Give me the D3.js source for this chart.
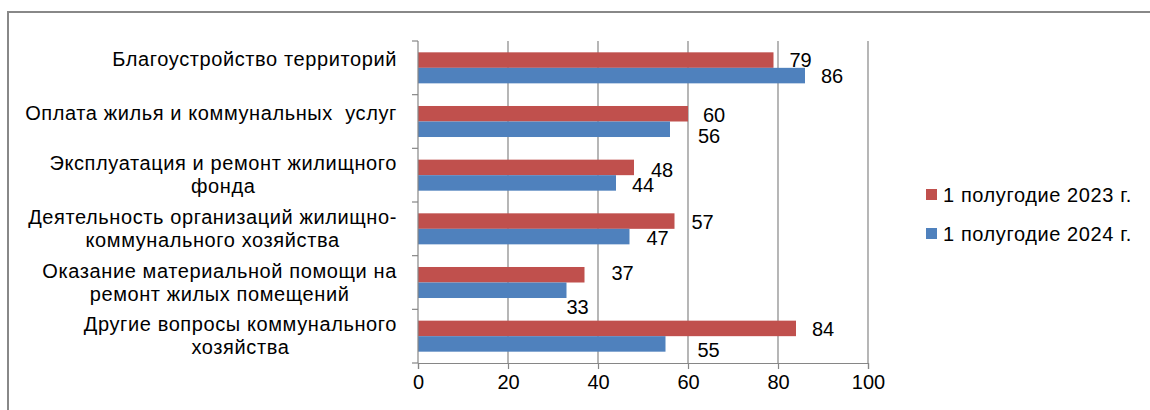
<!DOCTYPE html>
<meta charset="utf-8">
<style>
    body { margin: 0; background: #fff; }
    text { font-family: "Liberation Sans", Arial, sans-serif; fill: #000; white-space: pre; }
</style>
<body>
<script src="https://cdnjs.cloudflare.com/ajax/libs/d3/7.8.5/d3.min.js"></script>
<script>

    var categories = [
        ["Благоустройство территорий"],
        ["Оплата жилья и коммунальных  услуг"],
        ["Эксплуатация и ремонт жилищного", "фонда"],
        ["Деятельность организаций жилищно-", "коммунального хозяйства"],
        ["Оказание материальной помощи на", "ремонт жилых помещений"],
        ["Другие вопросы коммунального", "хозяйства"]
    ];
    var seriesNames = ["1 полугодие 2023 г.", "1 полугодие 2024 г."];
    var values2023 = [79, 60, 48, 57, 37, 84];
    var values2024 = [86, 56, 44, 47, 33, 55];
    var xTicks = [0, 20, 40, 60, 80, 100];

    var COLORS = ["#C0504D", "#4F81BD"];
    var GRID = "#868686";

    // label nudges (dx, dy) so the value labels sit like in the original
    var labelNudge = [
        [[16, 0], [16, 0]],
        [[15, 1], [28, 7]],
        [[17, 2], [16, 2]],
        [[17, 1], [17, 1]],
        [[27, -2], [0, 17]],
        [[16, 0], [32, 6]]
    ];

    var width = 1150;
    var height = 410;

    var svg = d3.select("body").append("svg")
        .attr("width", width)
        .attr("height", height);

    // outer frame (only top & left visible)
    svg.append("path")
        .attr("d", "M8,410 V12 H1150")
        .attr("fill", "none")
        .attr("stroke", "#888")
        .attr("stroke-width", 2);

    var plot = { left: 418, right: 868, top: 41, bottom: 363 };

    var x = d3.scaleLinear()
        .domain([0, 100])
        .range([plot.left, plot.right]);

    var y = d3.scaleBand()
        .domain(d3.range(categories.length))
        .range([plot.top, plot.bottom])
        .paddingInner(0)
        .paddingOuter(0);

    var sub = d3.scaleBand()
        .domain([0, 1])
        .range([0, y.bandwidth()])
        .paddingOuter(0.73)
        .paddingInner(0);

    // gridlines
    svg.selectAll("line.grid")
        .data(xTicks.slice(1))
        .enter().append("line")
        .attr("class", "grid")
        .attr("x1", function (d) { return x(d); })
        .attr("x2", function (d) { return x(d); })
        .attr("y1", plot.top)
        .attr("y2", plot.bottom)
        .attr("stroke", GRID)
        .attr("stroke-width", 1.2);

    // bars
    var series = [values2023, values2024];
    series.forEach(function (vals, s) {
        svg.selectAll("rect.bar" + s)
            .data(vals)
            .enter().append("rect")
            .attr("class", "bar" + s)
            .attr("x", x(0))
            .attr("y", function (d, i) { return y(i) + sub(s); })
            .attr("width", function (d) { return x(d) - x(0); })
            .attr("height", sub.bandwidth())
            .attr("fill", COLORS[s]);

        svg.selectAll("text.val" + s)
            .data(vals)
            .enter().append("text")
            .attr("class", "val" + s)
            .attr("x", function (d, i) { return x(d) + labelNudge[i][s][0]; })
            .attr("y", function (d, i) { return y(i) + sub(s) + sub.bandwidth() / 2 + labelNudge[i][s][1]; })
            .attr("dy", "0.36em")
            .attr("font-size", 20)
            .text(function (d) { return d; });
    });

    // x axis
    var xAxis = d3.axisBottom(x)
        .tickValues(xTicks)
        .tickSize(6)
        .tickPadding(6);

    var gx = svg.append("g")
        .attr("transform", "translate(0," + plot.bottom + ")")
        .call(xAxis);
    gx.select(".domain").attr("stroke", GRID).attr("stroke-width", 1.2);
    gx.selectAll(".tick line").attr("stroke", GRID).attr("stroke-width", 1.2);
    gx.selectAll(".tick text")
        .attr("font-size", 20)
        .attr("font-family", "Liberation Sans, Arial, sans-serif")
        .attr("fill", "#000");

    // y axis line with ticks at category boundaries
    var bounds = d3.range(categories.length + 1).map(function (i) {
        return plot.top + i * y.step();
    });
    svg.append("line")
        .attr("x1", plot.left).attr("x2", plot.left)
        .attr("y1", plot.top).attr("y2", plot.bottom)
        .attr("stroke", GRID).attr("stroke-width", 1.2);
    svg.selectAll("line.ytick")
        .data(bounds)
        .enter().append("line")
        .attr("class", "ytick")
        .attr("x1", plot.left - 6).attr("x2", plot.left)
        .attr("y1", function (d) { return d; })
        .attr("y2", function (d) { return d; })
        .attr("stroke", GRID).attr("stroke-width", 1.2);

    // category labels: block right-aligned, lines centered inside it
    var LINE_H = 23;
    categories.forEach(function (lines, i) {
        var g = svg.append("g");
        var cy = y(i) + y.bandwidth() / 2;
        var texts = g.selectAll("text")
            .data(lines)
            .enter().append("text")
            .attr("font-size", 20)
            .attr("letter-spacing", 0.6)
            .attr("text-anchor", "middle")
            .attr("y", function (d, k) {
                if (lines.length === 1) return cy - 2;
                return cy - 5 + k * LINE_H;
            })
            .text(function (d) { return d; });
        var maxW = 0;
        texts.each(function () {
            maxW = Math.max(maxW, this.getBBox().width);
        });
        texts.attr("x", 397 - maxW / 2);
    });

    // legend
    var legend = svg.selectAll("g.legend")
        .data(seriesNames)
        .enter().append("g")
        .attr("class", "legend")
        .attr("transform", function (d, i) { return "translate(926," + (189 + i * 39) + ")"; });
    legend.append("rect")
        .attr("width", 11)
        .attr("height", 11)
        .attr("fill", function (d, i) { return COLORS[i]; });
    legend.append("text")
        .attr("x", 17)
        .attr("y", 6)
        .attr("dy", "0.36em")
        .attr("font-size", 20)
        .attr("letter-spacing", 0.6)
        .text(function (d) { return d; });

</script>
</body>
</html>
